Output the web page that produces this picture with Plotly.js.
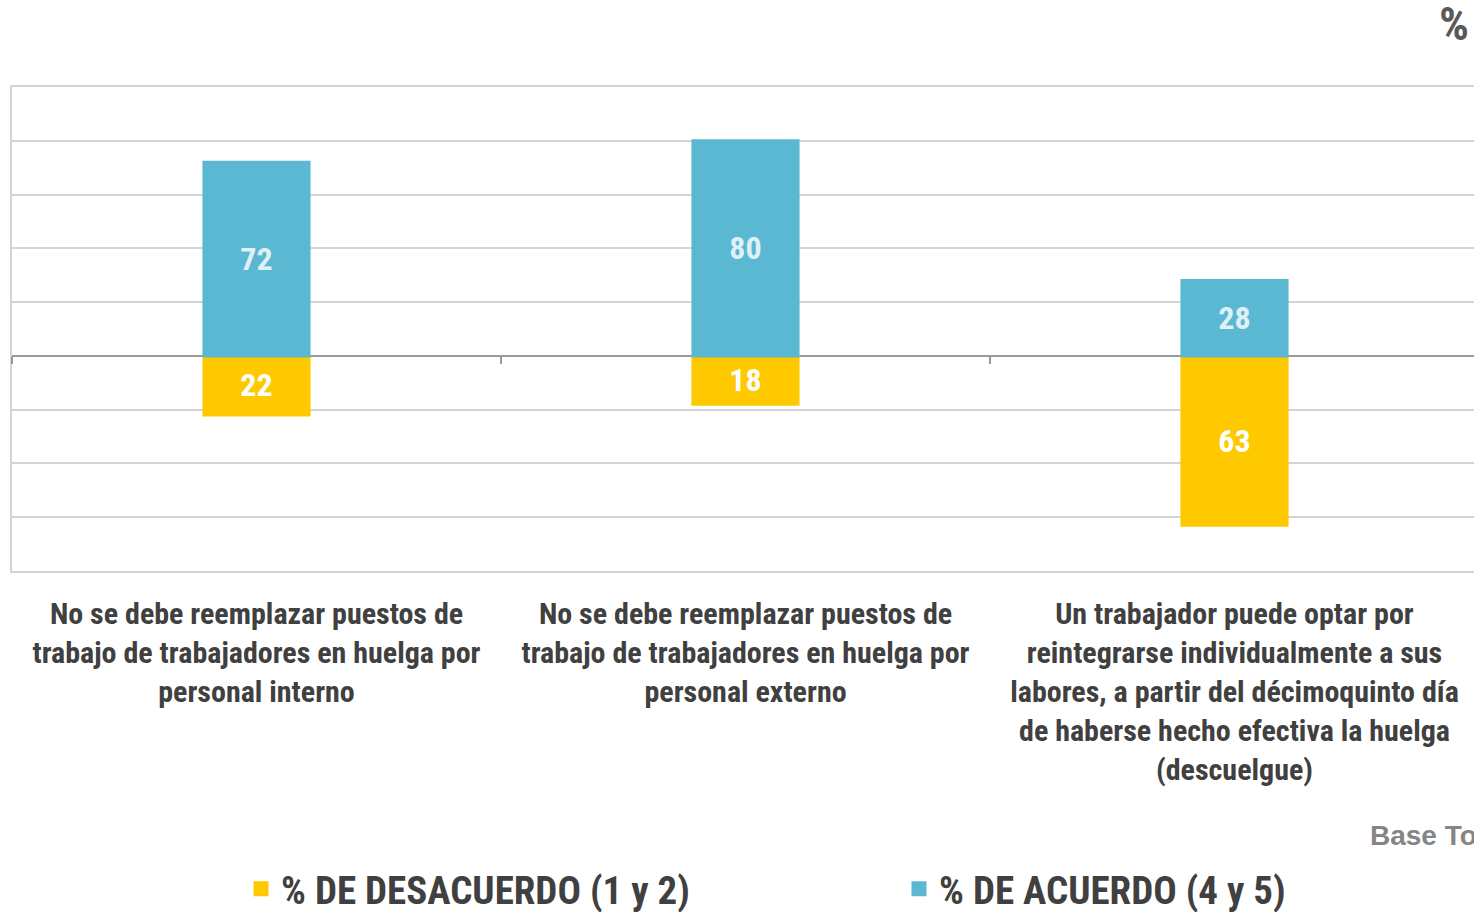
<!DOCTYPE html>
<html>
<head>
<meta charset="utf-8">
<script src="https://cdn.plot.ly/plotly-3.0.1.min.js"></script>
<style>
html,body{margin:0;padding:0;overflow:hidden;background:#fff;}
#chart{width:1480px;height:912px;}
</style>
</head>
<body>
<div id="chart"></div>
<script>
const categories = [
  "No se debe reemplazar puestos de<br>trabajo de trabajadores en huelga por<br>personal interno",
  "No se debe reemplazar puestos de<br>trabajo de trabajadores en huelga por<br>personal externo",
  "Un trabajador puede optar por<br>reintegrarse individualmente a sus<br>labores, a partir del décimoquinto día<br>de haberse hecho efectiva la huelga<br>(descuelgue)"
];
const disagree = [22, 18, 63];
const agree = [72, 80, 28];
const seriesNames = ["% DE DESACUERDO (1 y 2)", "% DE ACUERDO (4 y 5)"];

const FONT = "'Roboto Condensed', 'Liberation Sans Narrow', 'Arial Narrow', 'DejaVu Sans Condensed', sans-serif";
const W = 1480, H = 912;

const traces = [
  {
    type: 'bar', x: categories, y: disagree.map(v => -v), name: seriesNames[0],
    text: disagree.map(String), textposition: 'inside', insidetextanchor: 'middle',
    textfont: {family: FONT, size: 32, color: '#ffffff', weight: 'bold'},
    marker: {color: '#FFC900', line: {color: '#FFC900', width: 3}}, width: 0.215, hoverinfo: 'none',
    legend: 'legend'
  },
  {
    type: 'bar', x: categories, y: agree, name: seriesNames[1],
    text: agree.map(String), textposition: 'inside', insidetextanchor: 'middle',
    textfont: {family: FONT, size: 32, color: '#dff0f7', weight: 'bold'},
    marker: {color: '#5BB8D2', line: {color: '#5BB8D2', width: 3}}, width: 0.215, hoverinfo: 'none',
    legend: 'legend2'
  }
];

const legendFont = {family: FONT, size: 39, color: '#404040', weight: 'bold'};

const layout = {
  width: W, height: H,
  margin: {l: 12, r: 1, t: 87, b: 341},
  paper_bgcolor: '#ffffff', plot_bgcolor: '#ffffff',
  barmode: 'relative',
  showlegend: true,
  font: {family: FONT, color: '#404040'},
  xaxis: {
    type: 'category', showgrid: false, zeroline: false, automargin: false,
    showline: true, linecolor: '#d4d4d4', linewidth: 2, mirror: true,
    ticks: '', ticklabelstandoff: 15, tickangle: 0,
    tickfont: {family: FONT, size: 30, color: '#404040', weight: 'bold'}
  },
  xaxis2: {
    overlaying: 'x', anchor: 'free', position: (0 - (-80)) / 180,
    type: 'linear', range: [-0.5, categories.length - 0.5],
    tickvals: categories.map((c, i) => i - 0.5), showticklabels: false,
    ticks: 'outside', ticklen: 7, tickwidth: 2, tickcolor: '#999999',
    showgrid: false, zeroline: false, showline: false
  },
  yaxis: {
    range: [-80, 100], dtick: 20, showticklabels: false, ticks: '', automargin: false,
    showgrid: true, gridcolor: '#d4d4d4', gridwidth: 2,
    zeroline: true, zerolinecolor: '#9a9a9a', zerolinewidth: 2,
    showline: true, linecolor: '#d4d4d4', linewidth: 2
  },
  legend: {
    orientation: 'h', xref: 'container', yref: 'container',
    x: 241 / W, xanchor: 'left', y: (H - 857) / H, yanchor: 'top', font: legendFont
  },
  legend2: {
    orientation: 'h', xref: 'container', yref: 'container',
    x: 899 / W, xanchor: 'left', y: (H - 857) / H, yanchor: 'top', font: legendFont
  },
  annotations: [
    {text: '%', xref: 'paper', yref: 'paper', x: (1437 - 12) / 1467, y: 1 + (87 + 6) / 484,
     xanchor: 'left', yanchor: 'top', showarrow: false,
     font: {family: FONT, size: 47, color: '#595959', weight: 'bold'}},
    {text: 'Base Total', xref: 'paper', yref: 'paper', x: (1368 - 12) / 1467, y: (571 - 835) / 484,
     xanchor: 'left', yanchor: 'middle', showarrow: false,
     font: {family: "'Liberation Sans', Arial, sans-serif", size: 28, color: '#858585', weight: 'bold'}}
  ]
};

// invisible helper trace so the boundary-tick axis (xaxis2) is drawn
traces.push({type: 'scatter', x: [-0.5], y: [0], xaxis: 'x2', yaxis: 'y', mode: 'markers',
  marker: {opacity: 0}, showlegend: false, hoverinfo: 'none'});

Plotly.newPlot('chart', traces, layout, {displayModeBar: false, staticPlot: true});
</script>
</body>
</html>
